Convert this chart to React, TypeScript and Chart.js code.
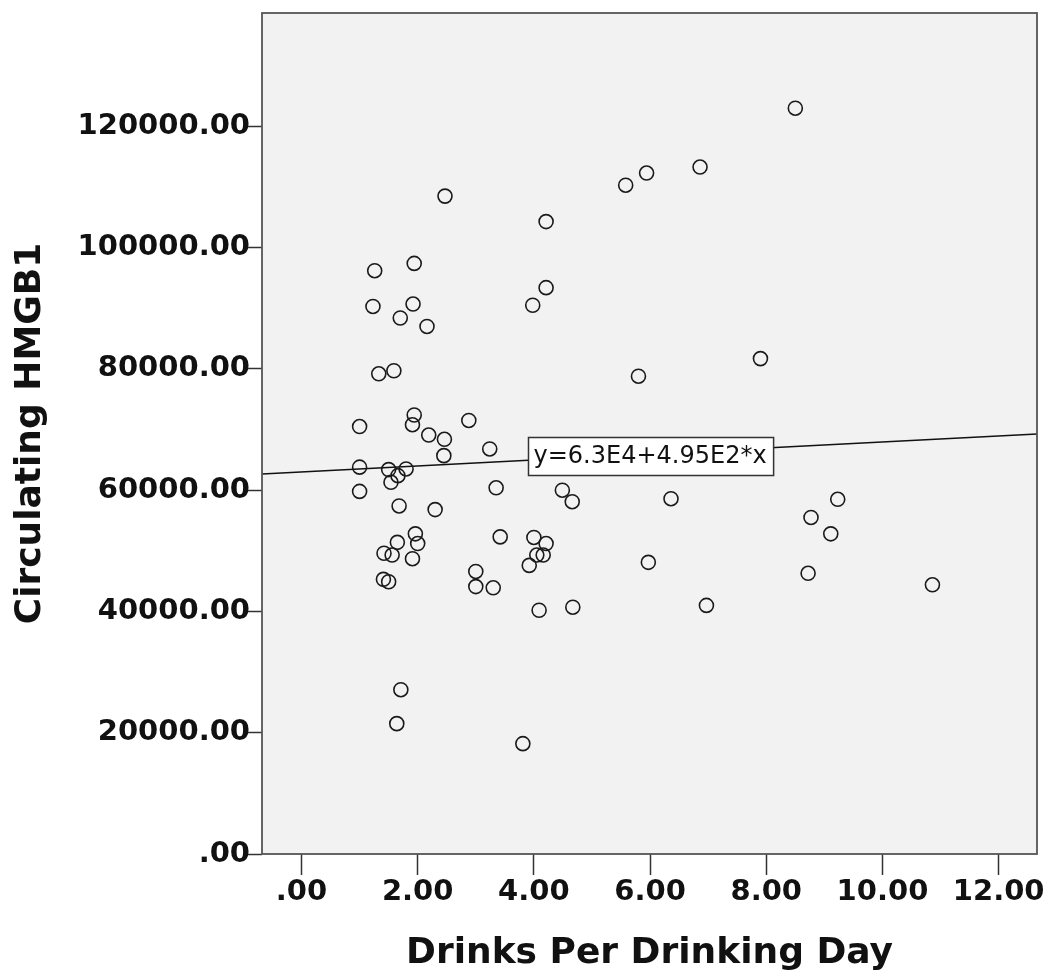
import React, { useEffect, useRef } from "react";
import { Chart, registerables } from "chart.js";

Chart.register(...registerables);

// ---- data ----
const drinksPerDay = [
  8.50, 2.47, 5.58, 5.94, 6.86, 4.21, 1.26, 1.94, 1.23, 1.92,
  1.70, 2.16, 4.21, 3.98, 7.90, 1.33, 1.59, 5.80, 1.00, 1.94,
  1.91, 2.88, 2.19, 2.46, 3.24, 2.45, 1.00, 1.50, 1.80, 1.66,
  1.54, 1.00, 3.35, 4.49, 4.66, 6.36, 9.23, 1.68, 2.30, 8.77,
  9.11, 1.96, 2.00, 1.65, 3.42, 4.00, 4.21, 4.16, 4.05, 1.42,
  1.56, 1.91, 3.92, 5.97, 8.72, 3.00, 1.41, 1.50, 3.00, 3.30,
  10.86, 4.09, 4.67, 6.97, 1.71, 1.64, 3.81,
];
const circulatingHMGB1 = [
  123000, 108500, 110300, 112300, 113300, 104300, 96200, 97400, 90300, 90700,
  88400, 87000, 93400, 90500, 81700, 79200, 79700, 78800, 70500, 72400,
  70800, 71500, 69100, 68400, 66800, 65700, 63800, 63400, 63500, 62400,
  61300, 59800, 60400, 60000, 58100, 58600, 58500, 57400, 56800, 55500,
  52800, 52800, 51200, 51400, 52300, 52200, 51200, 49300, 49300, 49600,
  49300, 48700, 47600, 48100, 46300, 46600, 45300, 44900, 44100, 43900,
  44400, 40200, 40700, 41000, 27100, 21500, 18200,
];

const xTickValues = [0, 2, 4, 6, 8, 10, 12];
const xTickLabels = [".00", "2.00", "4.00", "6.00", "8.00", "10.00", "12.00"];
const yTickValues = [0, 20000, 40000, 60000, 80000, 100000, 120000];
const yTickLabels = [".00", "20000.00", "40000.00", "60000.00", "80000.00", "100000.00", "120000.00"];

const xMin = -0.68;
const xMax = 12.66;
const yMin = 0;
const yMax = 138700;

const fitIntercept = 63000;
const fitSlope = 495;
const fitLabel = "y=6.3E4+4.95E2*x";
const fitLabelAtX = 6;

const xTitle = "Drinks Per Drinking Day";
const yTitle = "Circulating HMGB1";

// ---- layout constants ----
const W = 1047;
const H = 979;
const PLOT_LEFT = 262;
const PLOT_RIGHT = 1037;
const PLOT_TOP = 13;
const PLOT_BOTTOM = 854;

const FONT = "'DejaVu Sans', sans-serif";

const fitAt = (x: number) => fitIntercept + fitSlope * x;

const decorPlugin = {
  id: "decor",
  beforeDraw(chart: any) {
    const { ctx, chartArea } = chart;
    const { left, top, right, bottom } = chartArea;
    ctx.save();
    ctx.fillStyle = "#f2f2f2";
    ctx.fillRect(left, top, right - left, bottom - top);
    ctx.restore();
  },
  afterDatasetsDraw(chart: any) {
    const { ctx } = chart;
    const xs = chart.scales.x;
    const ys = chart.scales.y;
    const cx = xs.getPixelForValue(fitLabelAtX);
    const cy = ys.getPixelForValue(fitAt(fitLabelAtX)) + 2;
    ctx.save();
    ctx.font = `24px ${FONT}`;
    const tw = ctx.measureText(fitLabel).width;
    const bw = tw + 12;
    const bh = 38;
    const bx = Math.round(cx - bw / 2) + 0.5;
    const by = Math.round(cy - bh / 2) + 0.5;
    ctx.fillStyle = "#ffffff";
    ctx.fillRect(bx, by, bw, bh);
    ctx.strokeStyle = "#333333";
    ctx.lineWidth = 1.5;
    ctx.strokeRect(bx, by, bw, bh);
    ctx.fillStyle = "#111111";
    ctx.textAlign = "center";
    ctx.textBaseline = "middle";
    ctx.fillText(fitLabel, cx, cy + 1);
    ctx.restore();
  },
  afterDraw(chart: any) {
    const { ctx, chartArea } = chart;
    const { left, top, right, bottom } = chartArea;
    ctx.save();
    ctx.strokeStyle = "#555555";
    ctx.lineWidth = 1.8;
    ctx.strokeRect(left, top, right - left, bottom - top);
    ctx.restore();
  },
};

export default function App() {
  const canvasRef = useRef<HTMLCanvasElement | null>(null);

  useEffect(() => {
    if (!canvasRef.current) return;
    const points = drinksPerDay.map((x, i) => ({ x, y: circulatingHMGB1[i] }));
    const fitLine = [xMin, xMax].map((x) => ({ x, y: fitAt(x) }));

    const chart = new Chart(canvasRef.current, {
      type: "scatter",
      data: {
        datasets: [
          {
            label: "points",
            data: points,
            pointRadius: 7,
            pointHoverRadius: 7,
            pointBorderWidth: 1.6,
            pointBackgroundColor: "rgba(0,0,0,0)",
            pointBorderColor: "#1a1a1a",
            showLine: false,
          },
          {
            label: "fit",
            data: fitLine,
            showLine: true,
            pointRadius: 0,
            borderColor: "#111111",
            borderWidth: 1.5,
            fill: false,
          },
        ],
      },
      options: {
        animation: false,
        responsive: false,
        devicePixelRatio: 1,
        layout: { padding: { top: PLOT_TOP, right: W - PLOT_RIGHT, left: 0, bottom: 0 } },
        plugins: {
          legend: { display: false },
          tooltip: { enabled: false },
        },
        scales: {
          x: {
            type: "linear",
            position: "bottom",
            min: xMin,
            max: xMax,
            afterBuildTicks: (scale: any) => {
              scale.ticks = xTickValues.map((v) => ({ value: v }));
            },
            afterFit: (scale: any) => {
              scale.height = H - PLOT_BOTTOM;
              scale.paddingLeft = 0;
              scale.paddingRight = 0;
              scale.paddingTop = 0;
              scale.paddingBottom = 0;
            },
            ticks: {
              autoSkip: false,
              maxRotation: 0,
              minRotation: 0,
              padding: 0,
              color: "#111111",
              font: { family: FONT, size: 29, weight: "bold" },
              callback: (value: any) => {
                const i = xTickValues.indexOf(Number(value));
                return i >= 0 ? xTickLabels[i] : "";
              },
            },
            grid: {
              display: true,
              drawOnChartArea: false,
              drawTicks: true,
              tickLength: 21,
              tickWidth: 1.5,
              tickColor: "#333333",
            },
            border: { display: false },
            title: {
              display: true,
              text: xTitle,
              color: "#111111",
              font: { family: FONT, size: 36, weight: "bold" },
              padding: { top: 0, bottom: 4 },
            },
          },
          y: {
            type: "linear",
            position: "left",
            min: yMin,
            max: yMax,
            afterBuildTicks: (scale: any) => {
              scale.ticks = yTickValues.map((v) => ({ value: v }));
            },
            afterFit: (scale: any) => {
              scale.width = PLOT_LEFT;
              scale.paddingLeft = 0;
              scale.paddingRight = 0;
              scale.paddingTop = 0;
              scale.paddingBottom = 0;
            },
            ticks: {
              autoSkip: false,
              padding: -7,
              color: "#111111",
              font: { family: FONT, size: 29, weight: "bold" },
              callback: (value: any) => {
                const i = yTickValues.indexOf(Number(value));
                return i >= 0 ? yTickLabels[i] : "";
              },
            },
            grid: {
              display: true,
              drawOnChartArea: false,
              drawTicks: true,
              tickLength: 19,
              tickWidth: 1.5,
              tickColor: "#333333",
            },
            border: { display: false },
            title: {
              display: true,
              text: yTitle,
              color: "#111111",
              font: { family: FONT, size: 36, weight: "bold" },
              padding: { top: 9, bottom: 0 },
            },
          },
        },
      },
      plugins: [decorPlugin],
    } as any);

    return () => {
      chart.destroy();
    };
  }, []);

  return (
    <div style={{ position: "absolute", left: 0, top: 0, width: W, height: H, background: "#ffffff" }}>
      <canvas ref={canvasRef} width={W} height={H} style={{ display: "block", width: W, height: H }} />
    </div>
  );
}
